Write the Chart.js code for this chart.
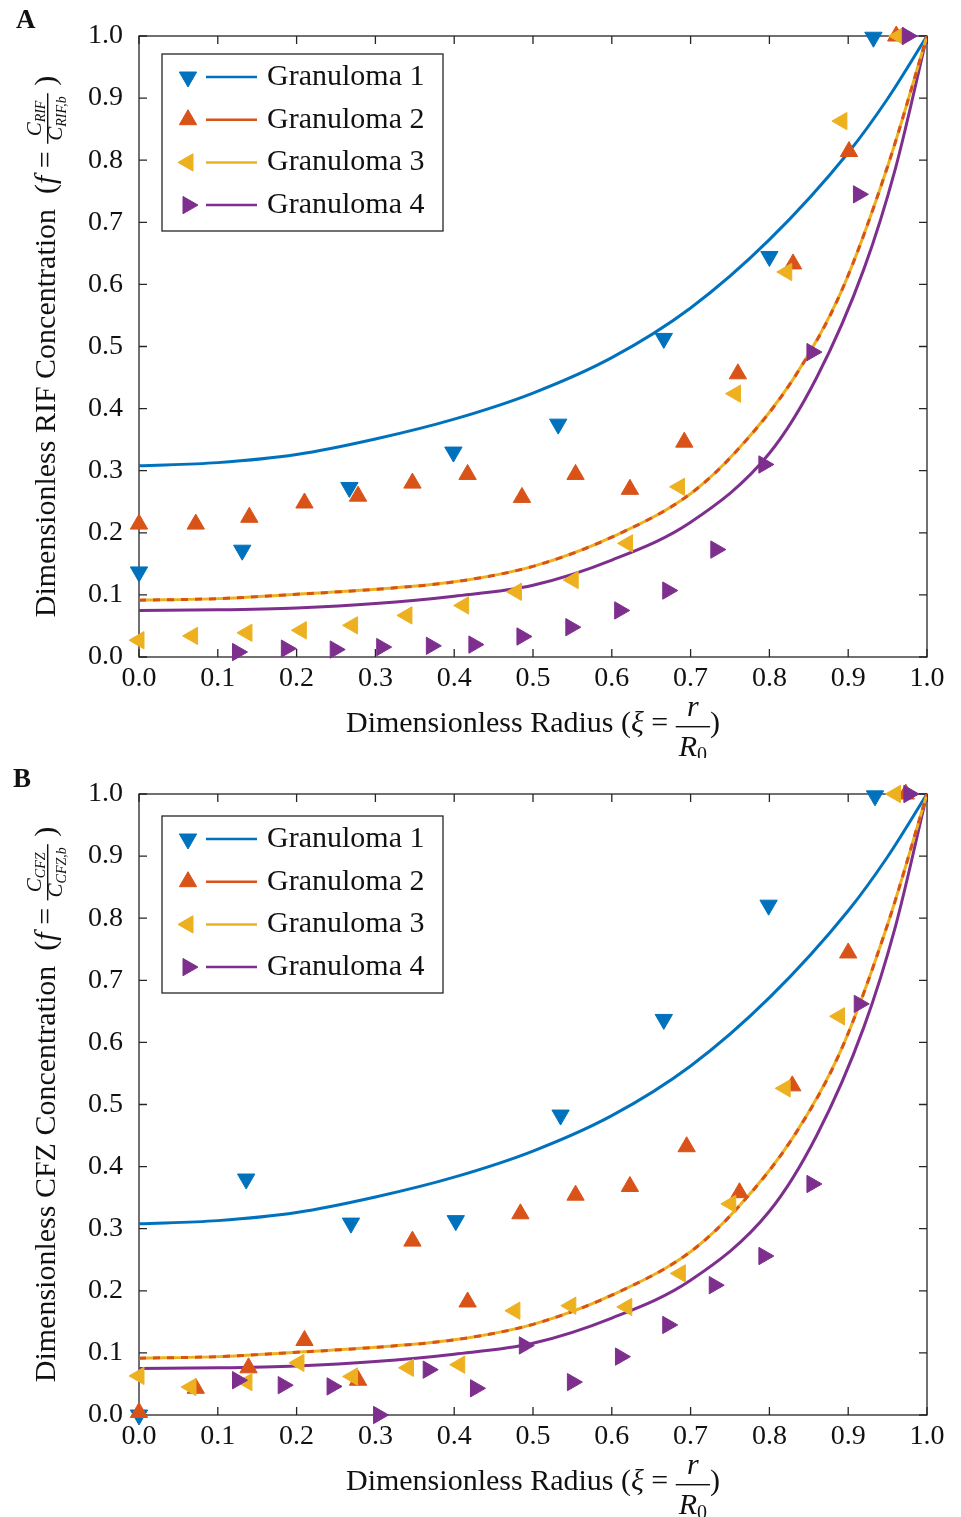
<!DOCTYPE html>
<html>
<head>
<meta charset="utf-8">
<script src="https://cdn.jsdelivr.net/npm/chart.js@4.4.1/dist/chart.umd.min.js"></script>
<style>
  body { margin: 0; background: #fff; }
  canvas { display: block; }
</style>
</head>
<body>
<canvas id="chartA" width="961" height="758"></canvas>
<canvas id="chartB" width="961" height="759"></canvas>
<script>
// ---- data ----
const xTicks = [0, 0.1, 0.2, 0.3, 0.4, 0.5, 0.6, 0.7, 0.8, 0.9, 1.0];
const yTicks = [0, 0.1, 0.2, 0.3, 0.4, 0.5, 0.6, 0.7, 0.8, 0.9, 1.0];
const seriesNames = ['Granuloma 1', 'Granuloma 2', 'Granuloma 3', 'Granuloma 4'];

// model curves (same in both panels)
const curveXiG1 = [0, 0.1, 0.2, 0.3, 0.4, 0.5, 0.6, 0.7, 0.8, 0.9, 0.95, 1.0];
const curveG1   = [0.308, 0.313, 0.326, 0.351, 0.383, 0.425, 0.482, 0.562, 0.672, 0.812, 0.899, 1.0];
const curveXiG2 = [0, 0.1, 0.2, 0.3, 0.4, 0.5, 0.6, 0.7, 0.76, 0.83, 0.89, 0.95, 1.0];
const curveG2   = [0.0915, 0.094, 0.101, 0.109, 0.121, 0.146, 0.193, 0.263, 0.334, 0.447, 0.585, 0.790, 1.0];
const curveXiG3 = [0, 0.1, 0.2, 0.3, 0.4, 0.5, 0.6, 0.7, 0.76, 0.83, 0.89, 0.95, 1.0];
const curveG3   = [0.0915, 0.094, 0.101, 0.109, 0.121, 0.146, 0.193, 0.263, 0.334, 0.447, 0.585, 0.790, 1.0];
const curveXiG4 = [0, 0.1, 0.2, 0.3, 0.4, 0.5, 0.6, 0.7, 0.8, 0.86, 0.92, 0.96, 1.0];
const curveG4   = [0.075, 0.076, 0.079, 0.086, 0.098, 0.1155, 0.156, 0.217, 0.328, 0.450, 0.625, 0.787, 1.0];

// panel A: RIF measurements
const g1XiA = [0, 0.131, 0.267, 0.399, 0.532, 0.666, 0.800, 0.932];
const g1A   = [0.137, 0.172, 0.273, 0.330, 0.375, 0.513, 0.645, 0.998];
const g2XiA = [0, 0.072, 0.140, 0.210, 0.278, 0.347, 0.417, 0.486, 0.554, 0.623, 0.692, 0.760, 0.830, 0.901, 0.961];
const g2A   = [0.214, 0.214, 0.225, 0.248, 0.259, 0.280, 0.294, 0.257, 0.294, 0.270, 0.346, 0.456, 0.633, 0.814, 1.0];
const g3XiA = [0, 0.068, 0.137, 0.206, 0.271, 0.340, 0.412, 0.479, 0.551, 0.620, 0.686, 0.757, 0.822, 0.892, 0.964];
const g3A   = [0.027, 0.034, 0.039, 0.043, 0.051, 0.067, 0.083, 0.105, 0.124, 0.183, 0.274, 0.424, 0.620, 0.863, 1.0];
const g4XiA = [0.125, 0.187, 0.249, 0.308, 0.371, 0.425, 0.486, 0.548, 0.610, 0.671, 0.732, 0.793, 0.854, 0.913, 0.975];
const g4A   = [0.008, 0.0135, 0.012, 0.016, 0.018, 0.020, 0.033, 0.048, 0.075, 0.107, 0.173, 0.310, 0.491, 0.745, 1.0];

// panel B: CFZ measurements
const g1XiB = [0, 0.136, 0.269, 0.402, 0.535, 0.666, 0.799, 0.934];
const g1B   = [0.0, 0.380, 0.309, 0.313, 0.483, 0.637, 0.821, 0.997];
const g2XiB = [0, 0.072, 0.139, 0.210, 0.278, 0.347, 0.417, 0.484, 0.554, 0.623, 0.695, 0.762, 0.829, 0.900, 0.973];
const g2B   = [0.004, 0.043, 0.076, 0.120, 0.056, 0.280, 0.182, 0.324, 0.354, 0.368, 0.432, 0.358, 0.530, 0.744, 1.0];
const g3XiB = [0, 0.066, 0.137, 0.203, 0.271, 0.342, 0.407, 0.477, 0.548, 0.619, 0.687, 0.751, 0.820, 0.889, 0.960];
const g3B   = [0.063, 0.045, 0.053, 0.084, 0.062, 0.076, 0.081, 0.168, 0.176, 0.174, 0.228, 0.340, 0.526, 0.642, 1.0];
const g4XiB = [0.125, 0.183, 0.245, 0.304, 0.367, 0.427, 0.489, 0.550, 0.611, 0.671, 0.730, 0.793, 0.854, 0.914, 0.977];
const g4B   = [0.056, 0.048, 0.046, 0.0, 0.073, 0.043, 0.112, 0.053, 0.094, 0.145, 0.209, 0.256, 0.372, 0.662, 1.0];

// ---- styling ----
const COLORS = ['#0072BD', '#D95319', '#EDB120', '#7E2F8E'];
const ROT = [180, 0, 270, 90];   // down, up, left, right triangles
const SERIF = '"Liberation Serif", "Times New Roman", serif';
const F30 = '30px ' + SERIF, I30 = 'italic 30px ' + SERIF;
const F20 = '20px ' + SERIF, I21 = 'italic 21px ' + SERIF, I14 = 'italic 14px ' + SERIF;
const AXIS = '#262626';

function pts(xs, ys) { return xs.map((x, i) => ({ x: x, y: ys[i] })); }

function markers(i, xs, ys) {
  return {
    label: seriesNames[i], data: pts(xs, ys), showLine: false,
    pointStyle: 'triangle', pointRotation: ROT[i], pointRadius: 10, pointBorderWidth: 1,
    pointBackgroundColor: COLORS[i], pointBorderColor: COLORS[i],
    clip: false, order: 3 - i
  };
}
function curve(i, xs, ys, dash, order) {
  return {
    label: seriesNames[i] + ' model', data: pts(xs, ys), showLine: true,
    borderColor: COLORS[i], borderWidth: 3, borderDash: dash, pointRadius: 0,
    cubicInterpolationMode: 'monotone', order: order
  };
}

// rich text helpers (fractions, subscripts)
function partWidth(ctx, p) {
  if (p.frac) return Math.max(runWidth(ctx, p.frac.num), runWidth(ctx, p.frac.den)) + 6;
  ctx.font = p.font; return ctx.measureText(p.t).width;
}
function runWidth(ctx, parts) { return parts.reduce((s, p) => s + partWidth(ctx, p), 0); }
function drawRun(ctx, parts, x, y) {
  for (const p of parts) {
    const w = partWidth(ctx, p);
    if (p.frac) {
      const f = p.frac;
      drawRun(ctx, f.num, x + (w - runWidth(ctx, f.num)) / 2, y + f.numDy);
      drawRun(ctx, f.den, x + (w - runWidth(ctx, f.den)) / 2, y + f.denDy);
      ctx.fillRect(x, y + f.barDy, w, 1.4);
    } else {
      ctx.font = p.font; ctx.fillText(p.t, x, y + (p.dy || 0));
    }
    x += w;
  }
}
function tri(ctx, x, y, r, rotDeg) {
  let a = rotDeg * Math.PI / 180;
  ctx.beginPath();
  for (let k = 0; k < 3; k++) {
    const px = x + Math.sin(a) * r, py = y - Math.cos(a) * r;
    if (k === 0) ctx.moveTo(px, py); else ctx.lineTo(px, py);
    a += 2 * Math.PI / 3;
  }
  ctx.closePath(); ctx.fill(); ctx.stroke();
}

const xTitle = [
  { t: 'Dimensionless Radius (', font: F30 }, { t: 'ξ', font: I30 }, { t: ' = ', font: F30 },
  { frac: { num: [{ t: 'r', font: I30 }], den: [{ t: 'R', font: I30 }, { t: '0', font: F20, dy: 5 }], numDy: -16, denDy: 24, barDy: -6 } },
  { t: ')', font: F30 }
];
function yTitle(drug) {
  return [
    { t: 'Dimensionless ' + drug + ' Concentration  (', font: F30 }, { t: 'f', font: I30 }, { t: ' = ', font: F30 },
    { frac: { num: [{ t: 'C', font: I21 }, { t: drug, font: I14, dy: 4 }],
              den: [{ t: 'C', font: I21 }, { t: drug + ',b', font: I14, dy: 4 }], numDy: -14, denDy: 7, barDy: -8 } },
    { t: ' )', font: F30 }
  ];
}

const panelPlugin = {
  id: 'panel',
  beforeDatasetsDraw(chart) {
    const { ctx, chartArea: a, scales } = chart;
    ctx.save();
    ctx.strokeStyle = AXIS; ctx.lineWidth = 1.3;
    ctx.strokeRect(a.left, a.top, a.right - a.left, a.bottom - a.top);
    ctx.beginPath();
    xTicks.forEach(v => {
      const px = scales.x.getPixelForValue(v);
      ctx.moveTo(px, a.bottom); ctx.lineTo(px, a.bottom - 8);
      ctx.moveTo(px, a.top); ctx.lineTo(px, a.top + 8);
    });
    yTicks.forEach(v => {
      const py = scales.y.getPixelForValue(v);
      ctx.moveTo(a.left, py); ctx.lineTo(a.left + 8, py);
      ctx.moveTo(a.right, py); ctx.lineTo(a.right - 8, py);
    });
    ctx.stroke();
    ctx.restore();
  },
  afterDraw(chart, args, opts) {
    const { ctx, chartArea: a } = chart;
    ctx.save();
    ctx.fillStyle = '#111'; ctx.textBaseline = 'alphabetic'; ctx.textAlign = 'left';
    // panel letter
    ctx.font = 'bold 27px ' + SERIF;
    ctx.fillText(opts.letter, opts.letterX, opts.letterY);
    // x title
    const cx = (a.left + a.right) / 2;
    drawRun(ctx, xTitle, cx - runWidth(ctx, xTitle) / 2, a.bottom + 75);
    // y title
    const yt = yTitle(opts.drug);
    ctx.save();
    ctx.translate(55, (a.top + a.bottom) / 2);
    ctx.rotate(-Math.PI / 2);
    drawRun(ctx, yt, -runWidth(ctx, yt) / 2, 0);
    ctx.restore();
    // legend
    const lx = 162, ly = opts.legendTop, w = 281, h = 177;
    ctx.fillStyle = '#fff'; ctx.fillRect(lx, ly, w, h);
    ctx.strokeStyle = AXIS; ctx.lineWidth = 1.3; ctx.strokeRect(lx, ly, w, h);
    seriesNames.forEach((name, i) => {
      const cy = ly + 23 + 42.7 * i;
      ctx.fillStyle = COLORS[i]; ctx.strokeStyle = COLORS[i]; ctx.lineWidth = 1;
      tri(ctx, lx + 26, cy, 10, ROT[i]);
      ctx.lineWidth = 2.5; ctx.beginPath(); ctx.moveTo(lx + 44, cy); ctx.lineTo(lx + 95, cy); ctx.stroke();
      ctx.fillStyle = '#111'; ctx.font = F30; ctx.textBaseline = 'middle';
      ctx.fillText(name, lx + 105, cy);
    });
    ctx.restore();
  }
};

function makeChart(id, g1x, g1, g2x, g2, g3x, g3, g4x, g4, opts) {
  const canvas = document.getElementById(id);
  const xAxisH = canvas.height - 657;
  const tickFont = { family: SERIF, size: 28 };
  return new Chart(canvas, {
    type: 'scatter',
    data: {
      datasets: [
        markers(0, g1x, g1), markers(1, g2x, g2), markers(2, g3x, g3), markers(3, g4x, g4),
        curve(0, curveXiG1, curveG1, [], 7), curve(1, curveXiG2, curveG2, [7, 7], 4),
        curve(2, curveXiG3, curveG3, [], 5), curve(3, curveXiG4, curveG4, [], 6)
      ]
    },
    options: {
      responsive: false, animation: false, events: [],
      layout: { padding: { left: 0, right: 34, top: 36, bottom: 0 } },
      plugins: { legend: { display: false }, tooltip: { enabled: false }, panel: opts },
      scales: {
        x: {
          type: 'linear', min: 0, max: 1,
          afterFit: s => { s.height = xAxisH; },
          afterBuildTicks: s => { s.ticks = xTicks.map(v => ({ value: v })); },
          ticks: { autoSkip: false, maxRotation: 0, padding: 5, color: '#111', font: tickFont, callback: v => v.toFixed(1) },
          grid: { display: false, drawTicks: false }, border: { display: false }
        },
        y: {
          type: 'linear', min: 0, max: 1,
          afterFit: s => { s.width = 139; },
          afterBuildTicks: s => { s.ticks = yTicks.map(v => ({ value: v })); },
          ticks: { padding: 16, color: '#111', font: tickFont, callback: v => v.toFixed(1) },
          grid: { display: false, drawTicks: false }, border: { display: false }
        }
      }
    },
    plugins: [panelPlugin]
  });
}

makeChart('chartA', g1XiA, g1A, g2XiA, g2A, g3XiA, g3A, g4XiA, g4A,
  { letter: 'A', letterX: 16, letterY: 28, drug: 'RIF', legendTop: 54 });
makeChart('chartB', g1XiB, g1B, g2XiB, g2B, g3XiB, g3B, g4XiB, g4B,
  { letter: 'B', letterX: 13, letterY: 29, drug: 'CFZ', legendTop: 58 });
</script>
</body>
</html>
